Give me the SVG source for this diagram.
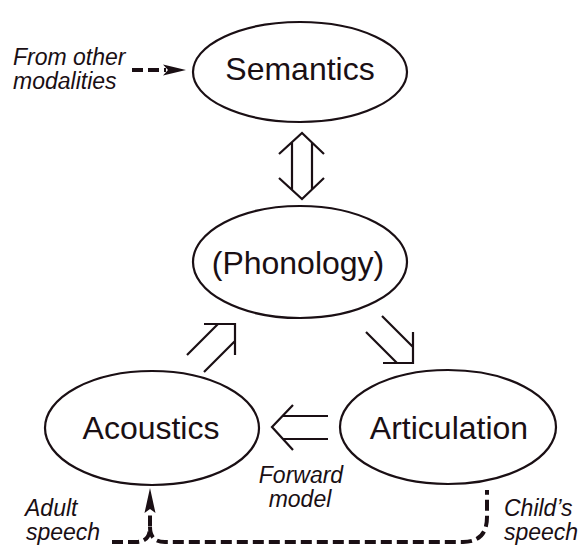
<svg xmlns="http://www.w3.org/2000/svg" width="580" height="546" viewBox="0 0 580 546">
<style>
.node ellipse{fill:#fff;stroke:#1a0f14;stroke-width:2.2}
.node text{font-family:"Liberation Sans",Arial,sans-serif;font-size:32px;fill:#1a0f14;text-anchor:middle}
.lbl{font-family:"Liberation Sans",Arial,sans-serif;font-size:23px;font-style:italic;fill:#1a0f14}
.thin{fill:none;stroke:#1a0f14;stroke-width:2.2;stroke-linecap:butt}
.dash{fill:none;stroke:#1a0f14;stroke-width:4;stroke-dasharray:11 5}
.head{fill:#1a0f14;stroke:none}
</style>
<rect width="580" height="546" fill="#fff"/>
<g id="connectors">
  <!-- Semantics <-> Phonology -->
  <path class="thin" d="M279,154 L302,133 L324,154 M279,178 L302,199 L324,178 M292,142 V190 M312,142 V190"/>
  <!-- Acoustics -> Phonology -->
  <path class="thin" d="M204,324 H235 V355 M187,355 L218,324 M204,372 L235,341"/>
  <!-- Phonology -> Articulation -->
  <path class="thin" d="M383,363 H413 V332 M382,316 L413,347 M366,332 L397,363"/>
  <!-- Articulation -> Acoustics (forward model) -->
  <path class="thin" d="M293,405 L272,427 L293,450 M283,416 H328 M283,439 H328"/>
  <!-- From other modalities -->
  <path class="dash" d="M132,70 H166"/>
  <polygon class="head" points="186,70 163,64.5 168,70 163,75.5"/>
  <!-- Adult speech / Child's speech -->
  <path class="dash" d="M112,542 H136 Q150,542 150,527 V511"/>
  <path class="dash" d="M150,527 Q150,542 165,542 H463 Q487,542 487,517 V490"/>
  <polygon class="head" points="150,488 144.5,513 150,509 155.5,513"/>
</g>
<g id="semantics" class="node">
  <ellipse cx="300" cy="72" rx="107" ry="50"/>
  <text x="300" y="80">Semantics</text>
</g>
<g id="phonology" class="node">
  <ellipse cx="300" cy="262" rx="107" ry="56"/>
  <text x="298" y="274">(Phonology)</text>
</g>
<g id="acoustics" class="node">
  <ellipse cx="152" cy="428" rx="107" ry="57"/>
  <text x="151" y="439">Acoustics</text>
</g>
<g id="articulation" class="node">
  <ellipse cx="448" cy="427" rx="108" ry="57"/>
  <text x="449" y="439">Articulation</text>
</g>
<g id="labels">
  <text class="lbl" x="13" y="65">From other</text>
  <text class="lbl" x="13" y="89">modalities</text>
  <text class="lbl" x="301" y="483" text-anchor="middle">Forward</text>
  <text class="lbl" x="300" y="507" text-anchor="middle">model</text>
  <text class="lbl" x="25" y="516">Adult</text>
  <text class="lbl" x="26" y="540">speech</text>
  <text class="lbl" x="504" y="516">Child’s</text>
  <text class="lbl" x="504" y="540">speech</text>
</g>
</svg>
